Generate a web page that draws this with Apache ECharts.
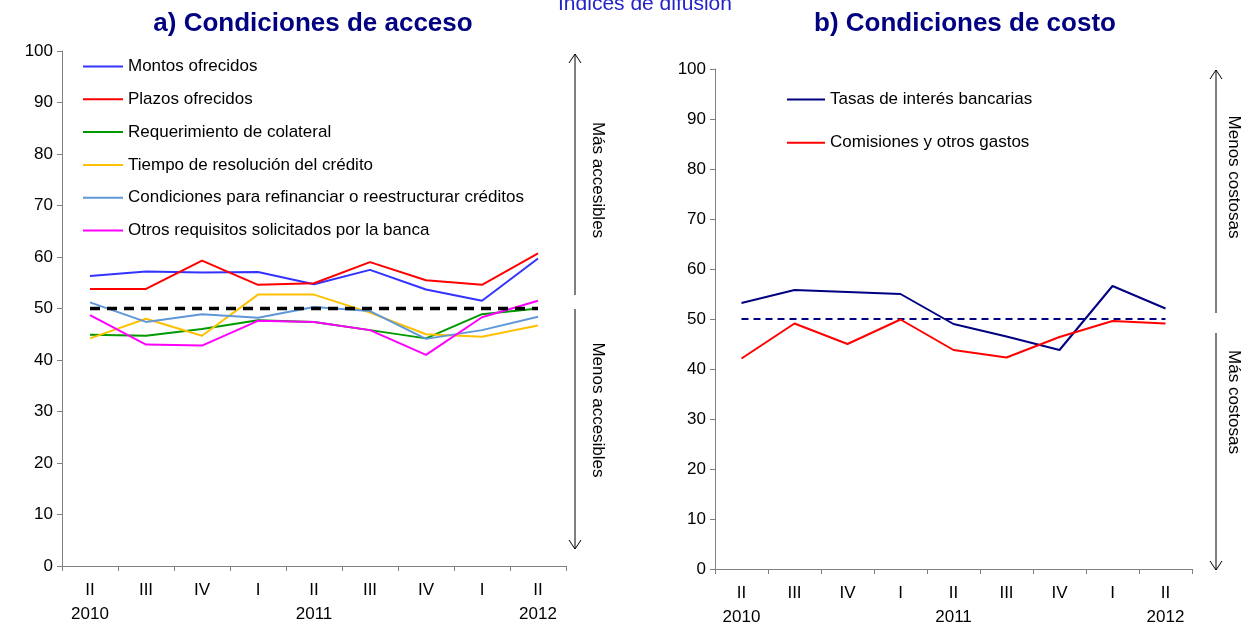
<!DOCTYPE html>
<html>
<head>
<meta charset="utf-8">
<script src="https://cdn.jsdelivr.net/npm/echarts@6/dist/echarts.min.js"></script>
<style>
  html, body { margin: 0; padding: 0; background: #fff; }
  #chart { width: 1245px; height: 629px; }
</style>
</head>
<body>
<div id="chart"></div>
<script>
// quarter labels and year row
const quarters = ['II', 'III', 'IV', 'I', 'II', 'III', 'IV', 'I', 'II'];
const years = ['2010', '', '', '', '2011', '', '', '', '2012'];

// a) Condiciones de acceso
const montos = [56.3, 57.2, 57.0, 57.1, 54.7, 57.5, 53.7, 51.5, 59.7];
const plazos = [53.8, 53.8, 59.3, 54.6, 54.9, 59.0, 55.5, 54.6, 60.7];
const colateral = [44.9, 44.7, 46.0, 47.7, 47.4, 45.8, 44.2, 48.9, 50.0];
const tiempo = [44.2, 48.0, 44.7, 52.7, 52.7, 49.2, 45.0, 44.5, 46.7];
const refinanciar = [51.2, 47.4, 48.9, 48.2, 50.3, 49.5, 44.1, 45.8, 48.4];
const otros = [48.7, 43.0, 42.8, 47.6, 47.4, 45.8, 41.0, 48.3, 51.5];

// b) Condiciones de costo
const tasas = [53.2, 55.8, 55.4, 55.0, 49.0, 46.5, 43.8, 56.6, 52.1];
const comisiones = [42.1, 49.1, 45.0, 49.9, 43.8, 42.3, 46.4, 49.6, 49.1];

// neutral level
const neutral = [50, 50, 50, 50, 50, 50, 50, 50, 50];

const font = "'Liberation Sans', Arial, sans-serif";
const chart = echarts.init(document.getElementById('chart'));

function xAxisFor(idx) {
  return {
    type: 'category',
    gridIndex: idx,
    data: quarters,
    boundaryGap: true,
    axisLine: { lineStyle: { color: '#808080', width: 1 } },
    axisTick: { show: true, length: 5, lineStyle: { color: '#808080' } },
    axisLabel: {
      color: '#000', fontSize: 17, fontFamily: font, margin: 12, lineHeight: 24,
      interval: 0,
      formatter: function (v, i) { return years[i] ? v + '\n' + years[i] : v; }
    }
  };
}
function yAxisFor(idx) {
  return {
    type: 'value',
    gridIndex: idx,
    min: 0, max: 100, interval: 10,
    axisLine: { show: true, lineStyle: { color: '#808080', width: 1 } },
    axisTick: { show: true, length: 5, lineStyle: { color: '#808080' } },
    splitLine: { show: false },
    axisLabel: { color: '#000', fontSize: 17, fontFamily: font, margin: 9 }
  };
}
function line(name, data, color, idx) {
  return {
    name: name, type: 'line', data: data,
    xAxisIndex: idx, yAxisIndex: idx,
    symbol: 'none', animation: false,
    lineStyle: { color: color, width: 2 },
    itemStyle: { color: color }
  };
}
function arrowHead(x, y, up) {
  const d = up ? 9 : -9;
  return {
    type: 'polyline', silent: true,
    shape: { points: [[x - 6, y + d], [x, y], [x + 6, y + d]] },
    style: { stroke: '#000', lineWidth: 1, fill: null }
  };
}
function vline(x, y1, y2) {
  return {
    type: 'line', silent: true,
    shape: { x1: x, y1: y1, x2: x, y2: y2 },
    style: { stroke: '#000', lineWidth: 1 }
  };
}
function vtext(text, x, y) {
  return {
    type: 'text', x: x, y: y, rotation: -Math.PI / 2, silent: true,
    style: { text: text, fill: '#000', font: '17px ' + font, align: 'center', verticalAlign: 'middle' }
  };
}

const namesA = ['Montos ofrecidos', 'Plazos ofrecidos', 'Requerimiento de colateral',
  'Tiempo de resolución del crédito', 'Condiciones para refinanciar o reestructurar créditos',
  'Otros requisitos solicitados por la banca'];
const namesB = ['Tasas de interés bancarias', 'Comisiones y otros gastos'];

const option = {
  backgroundColor: '#fff',
  animation: false,
  title: [
    { text: 'a) Condiciones de acceso', left: 308, top: 6, textAlign: 'center',
      textStyle: { fontSize: 26, fontWeight: 'bold', color: '#000080', fontFamily: font } },
    { text: 'b) Condiciones de costo', left: 960, top: 6, textAlign: 'center',
      textStyle: { fontSize: 26, fontWeight: 'bold', color: '#000080', fontFamily: font } }
  ],
  grid: [
    { left: 62, right: 679, top: 51, bottom: 63 },
    { left: 715, right: 53, top: 69, bottom: 56 }
  ],
  xAxis: [xAxisFor(0), xAxisFor(1)],
  yAxis: [yAxisFor(0), yAxisFor(1)],
  legend: [
    { data: namesA, orient: 'vertical', left: 77, top: 53, itemWidth: 40, itemHeight: 14, itemGap: 15.8,
      itemStyle: { opacity: 0 },
      textStyle: { fontSize: 17, fontFamily: font, color: '#000' }, selectedMode: false },
    { data: namesB, orient: 'vertical', left: 781, top: 86, itemWidth: 38, itemHeight: 14, itemGap: 26.3,
      itemStyle: { opacity: 0 },
      textStyle: { fontSize: 17, fontFamily: font, color: '#000' }, selectedMode: false }
  ],
  series: [
    line(namesA[0], montos, '#3333FF', 0),
    line(namesA[1], plazos, '#FF0000', 0),
    line(namesA[2], colateral, '#009900', 0),
    line(namesA[3], tiempo, '#FFC000', 0),
    line(namesA[4], refinanciar, '#5F97D8', 0),
    line(namesA[5], otros, '#FF00FF', 0),
    { name: 'neutral-a', type: 'line', data: neutral, xAxisIndex: 0, yAxisIndex: 0, symbol: 'none',
      lineStyle: { color: '#000', width: 3.5, type: [10, 7] }, z: 3 },
    { name: 'neutral-b', type: 'line', data: neutral, xAxisIndex: 1, yAxisIndex: 1, symbol: 'none',
      lineStyle: { color: '#000080', width: 2, type: [7, 5] } },
    line(namesB[0], tasas, '#000080', 1),
    line(namesB[1], comisiones, '#FF0000', 1)
  ],
  graphic: [
    { type: 'text', x: 645, y: -6, silent: true,
      style: { text: 'Índices de difusión', fill: '#2323C8', font: '21px ' + font, align: 'center' } },
    arrowHead(575, 54, true), vline(575, 54, 295), vline(575, 309, 549), arrowHead(575, 549, false),
    vtext('Más accesibles', 598, 180), vtext('Menos accesibles', 598, 410),
    arrowHead(1216, 70, true), vline(1216, 70, 313), vline(1216, 333, 570), arrowHead(1216, 570, false),
    vtext('Menos costosas', 1234, 177), vtext('Más costosas', 1234, 402)
  ]
};
chart.setOption(option);
</script>
</body>
</html>
